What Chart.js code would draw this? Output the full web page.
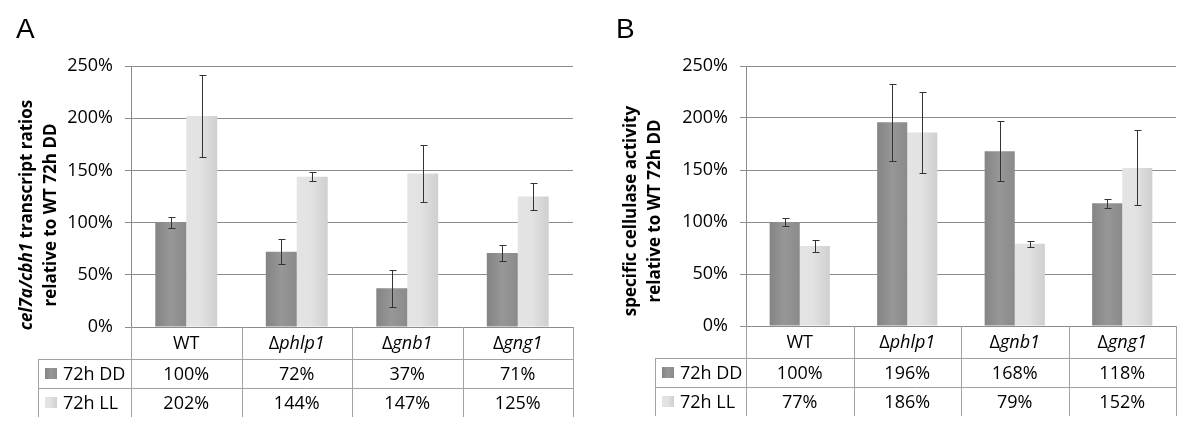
<!DOCTYPE html>
<html><head><meta charset="utf-8">
<script src="https://cdn.jsdelivr.net/npm/chart.js@4"></script>
<style>
html,body{margin:0;padding:0;background:#fff;}
#wrap{position:relative;width:1200px;height:446px;overflow:hidden;}
.panel{position:absolute;top:0;width:600px;height:446px;}
</style></head><body>
<div id="wrap">
<div class="panel" style="left:0"><canvas id="cA" width="600" height="446"></canvas></div>
<div class="panel" style="left:600px"><canvas id="cB" width="600" height="446"></canvas></div>
</div>
<script>
// ---- data ----
const categories = ['WT', 'Δphlp1', 'Δgnb1', 'Δgng1'];
const seriesNames = ['72h DD', '72h LL'];
const yTicks = [0, 50, 100, 150, 200, 250];

const transcriptDD = [100, 72, 37, 71];
const transcriptLL = [202, 144, 147, 125];
const transcriptErrDD = [5.5, 12, 18, 7.5];
const transcriptErrLL = [39, 4.5, 27, 13];

const activityDD = [100, 196, 168, 118];
const activityLL = [77, 186, 79, 152];
const activityErrDD = [4, 37, 29, 4.5];
const activityErrLL = [5.5, 39, 3, 36];

// ---- style ----
const FONT = "'Open Sans', 'Noto Sans', sans-serif";
const CAT_PCT = 0.56;
const DD_STOPS = [[0, '#848484'], [0.5, '#979797'], [1, '#8a8a8a']];
const LL_STOPS = [[0, '#e4e4e4'], [0.45, '#e2e2e2'], [1, '#cfcfcf']];

function makeGrad(ctx, x0, x1, stops) {
  const g = ctx.createLinearGradient(x0, 0, x1, 0);
  stops.forEach(s => g.addColorStop(s[0], s[1]));
  return g;
}

function barFill(stops, side) {
  return function (c) {
    const chart = c.chart;
    const xs = chart.scales && chart.scales.x;
    if (!chart.chartArea || !xs || c.type !== 'data') return stops[1][1];
    const center = xs.getPixelForValue(c.dataIndex);
    const catW = (chart.chartArea.right - chart.chartArea.left) / categories.length;
    const w = catW * CAT_PCT / 2;
    const x0 = side === 0 ? center - w : center;
    return makeGrad(chart.ctx, x0, x0 + w, stops);
  };
}

function fontStr(p, size) {
  return (p.italic ? 'italic ' : '') + (p.bold ? 'bold ' : '') + size + 'px ' + FONT;
}
function drawRich(ctx, parts, cx, cy, size, align) {
  let total = 0;
  parts.forEach(p => { ctx.font = fontStr(p, size); p.w = ctx.measureText(p.t).width; total += p.w; });
  let x = align === 'left' ? cx : cx - total / 2;
  ctx.textAlign = 'left';
  parts.forEach(p => { ctx.font = fontStr(p, size); ctx.fillText(p.t, x, cy); x += p.w; });
}
function catParts(label) {
  if (label.startsWith('Δ')) return [{ t: 'Δ' }, { t: label.slice(1), italic: true }];
  return [{ t: label }];
}

const errorBarPlugin = {
  id: 'errbars',
  afterDatasetsDraw(chart, args, opts) {
    const ctx = chart.ctx, ys = chart.scales.y;
    ctx.save();
    ctx.strokeStyle = '#333';
    ctx.lineWidth = 1;
    opts.errors.forEach((errs, di) => {
      const meta = chart.getDatasetMeta(di);
      const vals = chart.data.datasets[di].data;
      meta.data.forEach((el, i) => {
        const x = Math.round(el.x) + 0.5;
        const t = Math.round(ys.getPixelForValue(vals[i] + errs[i])) + 0.5;
        const b = Math.round(ys.getPixelForValue(vals[i] - errs[i])) + 0.5;
        ctx.beginPath();
        ctx.moveTo(x, t); ctx.lineTo(x, b);
        ctx.moveTo(x - 3, t); ctx.lineTo(x + 4, t);
        ctx.moveTo(x - 3, b); ctx.lineTo(x + 4, b);
        ctx.stroke();
      });
    });
    ctx.restore();
  }
};

const decorPlugin = {
  id: 'decor',
  afterDraw(chart, args, o) {
    const ctx = chart.ctx, area = chart.chartArea;
    const n = categories.length;
    const catW = (area.right - area.left) / n;
    ctx.save();
    // panel letter
    ctx.fillStyle = '#000';
    ctx.font = "28px 'Liberation Sans', Arial, sans-serif";
    ctx.textAlign = 'left'; ctx.textBaseline = 'alphabetic';
    ctx.fillText(o.letter, o.letterX, 38);

    // y title (rotated)
    ctx.save();
    ctx.textBaseline = 'middle';
    o.titleLines.forEach((parts, li) => {
      ctx.save();
      ctx.translate(o.titleX[li], o.titleY);
      ctx.rotate(-Math.PI / 2);
      drawRich(ctx, parts.map(p => Object.assign({ bold: true }, p)), 0, 0, o.titleSize);
      ctx.restore();
    });
    ctx.restore();

    // table lines
    const top = area.bottom;
    const r1 = top + 32, r2 = top + 61, bot = top + 90;
    const L = area.left - o.tableOffset;
    ctx.strokeStyle = '#a2a2a2';
    ctx.lineWidth = 1;
    ctx.beginPath();
    [r1, r2].forEach(y => { const yy = Math.round(y) + 0.5; ctx.moveTo(L, yy); ctx.lineTo(area.right, yy); });
    for (let i = 0; i <= n; i++) {
      const x = Math.round(area.left + i * catW) + 0.5;
      ctx.moveTo(x, top); ctx.lineTo(x, bot);
    }
    const xl = Math.round(L) + 0.5;
    ctx.moveTo(xl, r1); ctx.lineTo(xl, bot);
    ctx.stroke();

    // table text
    ctx.fillStyle = '#000';
    ctx.textBaseline = 'middle';
    const rows = [chart.data.datasets[0].data, chart.data.datasets[1].data];
    categories.forEach((c, i) => {
      const cx = area.left + (i + 0.5) * catW;
      drawRich(ctx, catParts(c), cx, (top + r1) / 2 + 1, o.tableSize);
      drawRich(ctx, [{ t: rows[0][i] + '%' }], cx, (r1 + r2) / 2 + 1, o.tableSize);
      drawRich(ctx, [{ t: rows[1][i] + '%' }], cx, (r2 + bot) / 2 + 1, o.tableSize);
    });
    // legend keys
    const stopsArr = [DD_STOPS, LL_STOPS];
    const rowMid = [(r1 + r2) / 2, (r2 + bot) / 2];
    seriesNames.forEach((s, k) => {
      const sx = L + 7, sy = Math.round(rowMid[k] - 5.5);
      ctx.fillStyle = makeGrad(ctx, sx, sx + 12, stopsArr[k]);
      ctx.fillRect(sx, sy, 12, 11);
      ctx.fillStyle = '#000';
      drawRich(ctx, [{ t: s }], L + 25, rowMid[k] + 1, o.tableSize, 'left');
    });
    ctx.restore();
  }
};

function makeChart(id, dd, ll, errDD, errLL, cfg) {
  return new Chart(document.getElementById(id), {
    type: 'bar',
    data: {
      labels: categories,
      datasets: [
        { label: seriesNames[0], data: dd, backgroundColor: barFill(DD_STOPS, 0), borderWidth: 0,
          categoryPercentage: CAT_PCT, barPercentage: 1.0 },
        { label: seriesNames[1], data: ll, backgroundColor: barFill(LL_STOPS, 1), borderWidth: 0,
          categoryPercentage: CAT_PCT, barPercentage: 1.0 }
      ]
    },
    options: {
      responsive: false,
      animation: false,
      events: [],
      layout: { padding: { left: cfg.padLeft, right: cfg.padRight, top: 66, bottom: cfg.padBottom } },
      plugins: {
        legend: { display: false },
        tooltip: { enabled: false },
        errbars: { errors: [errDD, errLL] },
        decor: cfg.decor
      },
      scales: {
        x: { display: false },
        y: {
          min: 0, max: 250,
          afterBuildTicks: s => { s.ticks = yTicks.map(v => ({ value: v })); },
          afterFit: s => { s.width = 70; },
          ticks: { callback: v => v + '%', font: { family: FONT, size: 18 }, color: '#000', padding: 12 },
          grid: { color: '#8c8c8c', lineWidth: 1, tickLength: 6, drawTicks: true },
          border: { color: '#8c8c8c' }
        }
      }
    },
    plugins: [errorBarPlugin, decorPlugin]
  });
}

makeChart('cA', transcriptDD, transcriptLL, transcriptErrDD, transcriptErrLL, {
  padLeft: 61, padRight: 27, padBottom: 119,
  decor: {
    letter: 'A', letterX: 16,
    titleLines: [[{ t: 'cel7a/cbh1', italic: true }, { t: ' transcript ratios' }], [{ t: 'relative to WT 72h DD' }]],
    titleX: [27, 51], titleY: 215, titleSize: 17,
    tableOffset: 93, tableSize: 18
  }
});

makeChart('cB', activityDD, activityLL, activityErrDD, activityErrLL, {
  padLeft: 76, padRight: 24, padBottom: 120,
  decor: {
    letter: 'B', letterX: 16,
    titleLines: [[{ t: 'specific cellulase activity' }], [{ t: 'relative to WT 72h DD' }]],
    titleX: [31, 55], titleY: 211, titleSize: 17,
    tableOffset: 91, tableSize: 18
  }
});
</script>
</body></html>
